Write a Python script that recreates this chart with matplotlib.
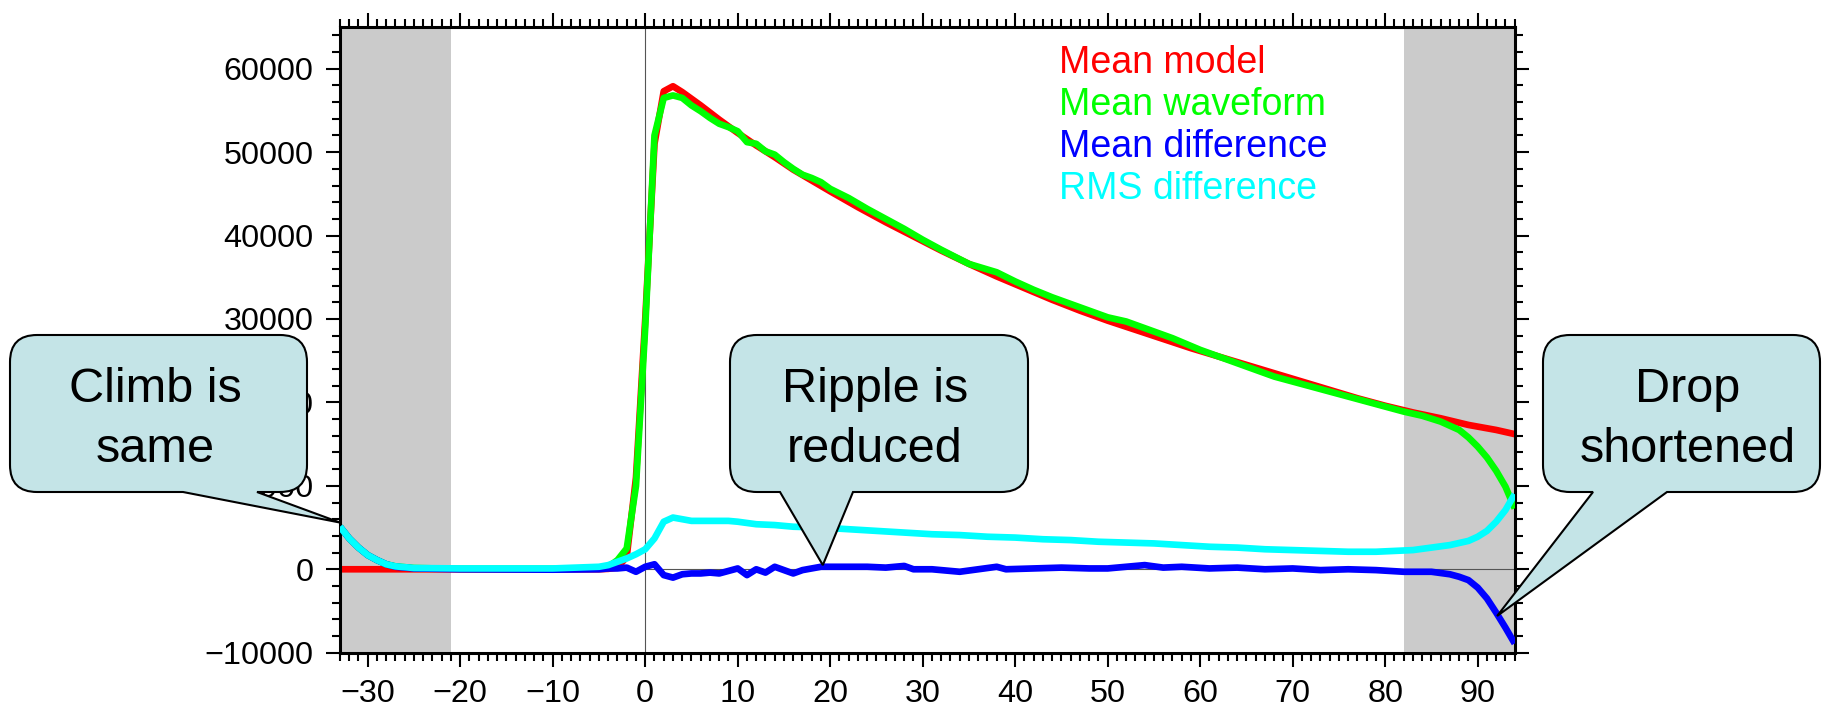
#!/usr/bin/env python3
"""
Mean model vs mean waveform, with difference traces and callouts.
"""

import numpy as np
import matplotlib
matplotlib.use('Agg')
import matplotlib.pyplot as plt
from matplotlib.path import Path
from matplotlib.patches import PathPatch
from matplotlib.ticker import MultipleLocator

# ---- data ----
model_x = [-33, -5, -4, -3, -2, -1, 0, 1, 2, 3, 4, 6, 8, 10, 12, 14, 16, 18, 20,
           23, 26, 29, 32, 35, 38, 41, 44, 47, 50, 53, 56, 59, 62, 65, 68, 71,
           74, 77, 80, 83, 86, 89, 92, 94]
model_y = [0, 0, 50, 200, 1500, 11000, 30000, 51000, 57300, 57900, 57200, 55600,
           53900, 52300, 50800, 49400, 47900, 46600, 45300, 43400, 41600, 39900,
           38200, 36600, 35100, 33700, 32300, 31000, 29800, 28700, 27600, 26500,
           25500, 24500, 23500, 22500, 21500, 20500, 19600, 18800, 18100, 17300,
           16700, 16200]

wave_x = [-33, -32, -31, -30, -29, -28, -27, -25, -20, -10, -5, -4, -3, -2, -1, 0,
          1, 2, 3, 4, 5, 6, 7, 8, 9, 10, 11, 12, 13, 14, 15, 16, 17, 18, 19, 20,
          22, 24, 26, 28, 30, 32, 35, 38, 40, 42, 44, 47, 50, 52, 54, 57, 60, 63,
          66, 68, 71, 74, 76, 79, 82, 84, 86, 88, 89, 90, 91, 92, 93, 94]
wave_y = [5100, 3700, 2600, 1700, 1100, 600, 350, 150, 50, 50, 100, 300, 1100, 2500,
          10000, 29000, 52000, 56500, 56800, 56500, 55600, 54900, 54100, 53400,
          53000, 52500, 51200, 51000, 50100, 49700, 48800, 48000, 47300, 46900,
          46400, 45600, 44500, 43200, 42000, 40800, 39500, 38300, 36600, 35600,
          34500, 33500, 32600, 31400, 30200, 29700, 28900, 27700, 26300, 25100,
          23900, 23100, 22200, 21300, 20700, 19800, 18900, 18400, 17700, 16700,
          15800, 14700, 13400, 11800, 9900, 7300]

diff_x = [-33, -32, -31, -30, -29, -28, -27, -25, -20, -10, -5, -4, -3, -2, -1, 0,
          1, 2, 3, 4, 5, 6, 7, 8, 9, 10, 11, 12, 13, 14, 15, 16, 17, 18, 19, 21,
          24, 26, 28, 29, 31, 34, 36, 38, 39, 42, 45, 48, 50, 54, 56, 58, 61, 64,
          67, 70, 73, 76, 79, 82, 85, 87, 88, 89, 90, 91, 92, 93, 94]
diff_y = [5100, 3700, 2600, 1700, 1100, 600, 300, 100, 0, -50, 0, 100, 100, 200,
          -300, 300, 600, -700, -1000, -600, -500, -500, -400, -500, -200, 100,
          -700, 0, -400, 300, -100, -500, -100, 100, 300, 300, 300, 200, 400, 0,
          0, -300, 0, 300, 0, 100, 200, 100, 100, 500, 200, 300, 100, 200, 0, 100,
          -100, 0, -100, -300, -300, -600, -900, -1300, -2200, -3500, -5200,
          -7000, -8900]

rms_x = [-33, -32, -31, -30, -29, -28, -27, -25, -20, -10, -5, -4, -3, -2, -1, 0,
         1, 2, 3, 4, 5, 7, 9, 10, 12, 14, 16, 19, 22, 25, 28, 31, 34, 37, 40, 43,
         46, 49, 52, 55, 58, 61, 64, 67, 70, 73, 76, 79, 81, 83, 85, 87, 89, 90,
         91, 92, 93, 94]
rms_y = [5100, 3700, 2600, 1700, 1100, 600, 350, 150, 100, 100, 300, 500, 900, 1300,
         1800, 2400, 3700, 5700, 6200, 6000, 5800, 5800, 5800, 5700, 5400, 5300,
         5100, 5000, 4800, 4600, 4400, 4200, 4100, 3900, 3800, 3600, 3500, 3300,
         3200, 3100, 2900, 2700, 2600, 2400, 2300, 2200, 2100, 2100, 2200, 2300,
         2600, 2900, 3400, 3900, 4600, 5700, 7100, 9000]

series_names = ['Mean model', 'Mean waveform', 'Mean difference', 'RMS difference']
series_colors = ['#ff0000', '#00ff00', '#0000ff', '#00ffff']

shade_spans = [(-33, -21), (82, 94)]

callout_lines = [['Climb is', 'same'], ['Ripple is', 'reduced'], ['Drop', 'shortened']]
callout_tips = [(-33, 5600), (19.2, 500), (92.1, -5600)]

# ---- figure layout (pixels, measured from the top) ----
W, H = 1823, 707
plt.rcParams['font.family'] = ['Liberation Sans', 'DejaVu Sans']

fig = plt.figure(figsize=(W / 100, H / 100), dpi=100)
ax = fig.add_axes([340 / W, 1 - 652.7 / H, (1514.7 - 340) / W, (652.7 - 27) / H])
ax.set_xlim(-33, 94)
ax.set_ylim(-10000, 65000)

for x0, x1 in shade_spans:
    ax.axvspan(x0, x1, color='#cbcbcb', lw=0, zorder=0)
ax.axvline(0, color='#555555', lw=0.8, zorder=1)
ax.axhline(0, color='#555555', lw=0.8, zorder=1)

all_x = [model_x, wave_x, diff_x, rms_x]
all_y = [model_y, wave_y, diff_y, rms_y]
for i, (xs, ys) in enumerate(zip(all_x, all_y)):
    ax.plot(xs, ys, color=series_colors[i], lw=4.8, solid_joinstyle='round',
            solid_capstyle='butt', zorder=2 + i)

# GMT-like frame
for side in ax.spines.values():
    side.set_linewidth(2.2)
ax.xaxis.set_major_locator(MultipleLocator(10))
ax.xaxis.set_minor_locator(MultipleLocator(1))
ax.yaxis.set_major_locator(MultipleLocator(10000))
ax.yaxis.set_minor_locator(MultipleLocator(2000))
ax.tick_params(which='both', direction='out', top=True, right=True, width=1.5)
ax.tick_params(which='major', length=10, labelsize=23.3)
ax.tick_params(which='minor', length=5.5)
ax.tick_params(axis='y', which='major', pad=9)
ax.tick_params(axis='x', which='major', pad=9)

# text legend, top right
legend_baselines = [72.7, 115, 156.7, 199.3]
for name, col, yb in zip(series_names, series_colors, legend_baselines):
    fig.text(1059 / W, 1 - yb / H, name, color=col, fontsize=27,
             ha='left', va='baseline')


def callout(box, base, tip_data):
    """Rounded box with a triangular pointer, in figure pixels (y from top)."""
    x0, x1, ytop, ybot = box
    r = 27
    tx, ty = ax.transData.transform(tip_data)
    tx, ty = tx, ty  # display pixels, y up
    yb = H - ybot
    yt = H - ytop
    verts = [(base[0], yb), (tx, ty), (base[1], yb),
             (x1 - r, yb), (x1, yb), (x1, yb + r),
             (x1, yt - r), (x1, yt), (x1 - r, yt),
             (x0 + r, yt), (x0, yt), (x0, yt - r),
             (x0, yb + r), (x0, yb), (x0 + r, yb),
             (base[0], yb), (base[0], yb)]
    codes = [Path.MOVETO, Path.LINETO, Path.LINETO,
             Path.LINETO, Path.CURVE3, Path.CURVE3,
             Path.LINETO, Path.CURVE3, Path.CURVE3,
             Path.LINETO, Path.CURVE3, Path.CURVE3,
             Path.LINETO, Path.CURVE3, Path.CURVE3,
             Path.LINETO, Path.CLOSEPOLY]
    verts = [(vx / W, vy / H) for vx, vy in verts]
    patch = PathPatch(Path(verts, codes), facecolor='#c4e4e7', edgecolor='black',
                      lw=1.5, transform=fig.transFigure, zorder=5)
    fig.add_artist(patch)


boxes = [(10, 307, 335, 492), (730, 1028, 335, 492), (1543, 1820, 335, 492)]
bases = [(183, 257), (780, 853), (1593, 1667)]
text_centers = [155, 875, 1688]

fig.canvas.draw()
for box, base, tip, lines, cx in zip(boxes, bases, callout_tips, callout_lines, text_centers):
    callout(box, base, tip)
    for line, yb in zip(lines, [401.7, 461.7]):
        fig.text(cx / W, 1 - yb / H, line, fontsize=35, ha='center',
                 va='baseline', zorder=6)

fig.savefig('out.png', dpi=100)
